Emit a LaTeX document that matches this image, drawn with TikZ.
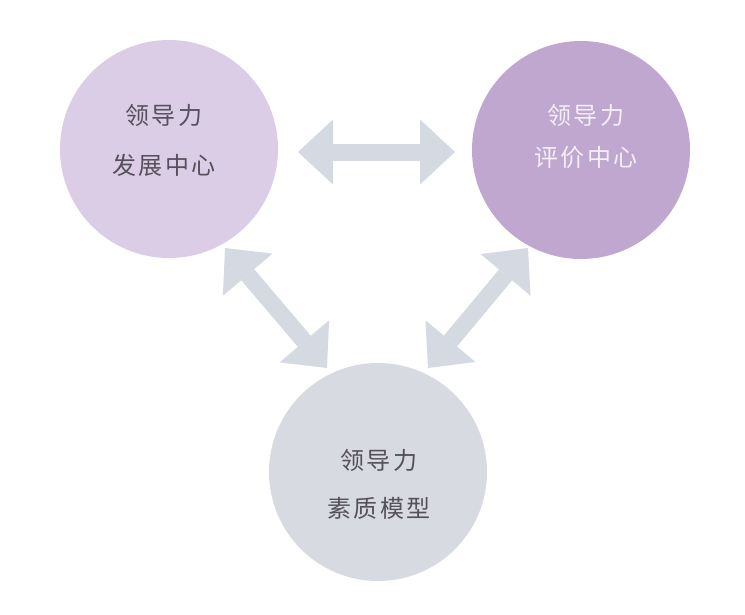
\documentclass[tikz,border=0pt]{standalone}
\usepackage{fontspec}
\newfontfamily\cjk[LetterSpace=10]{Noto Sans CJK SC}
\usetikzlibrary{arrows.meta}
\definecolor{cleft}{HTML}{DACDE5}
\definecolor{cright}{HTML}{BFA7CF}
\definecolor{cbottom}{HTML}{D7DAE1}
\definecolor{carrow}{HTML}{D5D9E1}
\definecolor{tdark}{HTML}{55505B}
\definecolor{tlight}{HTML}{F4EEF7}
\tikzset{
  hub/.style={circle, minimum size=218pt, inner sep=0pt, draw=none},
  hubtext/.style={inner sep=0pt, align=center, font=\cjk\fontsize{24pt}{28pt}\selectfont},
  dblarrow/.style={draw=carrow, line width=17pt,
    {Triangle[length=35pt,width=65pt,line width=0pt]}-{Triangle[length=35pt,width=65pt,line width=0pt]}},
}
\begin{document}
\begin{tikzpicture}[x=1pt,y=-1pt]
\useasboundingbox (0,0) rectangle (745,614);
\fill[white] (0,0) rectangle (745,614);
\node[hub, fill=cleft] (dev) at (169,149) {};
\node[hub, fill=cright] (eval) at (581,150) {};
\node[hub, fill=cbottom] (model) at (378,472) {};
\node[hubtext, text=tdark] (devtxt) at (164,140) {领导力\\[22pt]发展中心};
\node[hubtext, text=tlight] (evaltxt) at (586,136) {领导力\\[14pt]评价中心};
\node[hubtext, text=tdark] (modeltxt) at (379,484) {领导力\\[20pt]素质模型};
\coordinate (h1) at (298,152);
\coordinate (h2) at (455,152);
\coordinate (l1) at (225,248);
\coordinate (l2) at (327,368);
\coordinate (r1) at (528,248);
\coordinate (r2) at (428,368);
\draw[dblarrow] (h1) -- (h2);
\draw[dblarrow] (l1) -- (l2);
\draw[dblarrow] (r1) -- (r2);
\end{tikzpicture}
\end{document}
